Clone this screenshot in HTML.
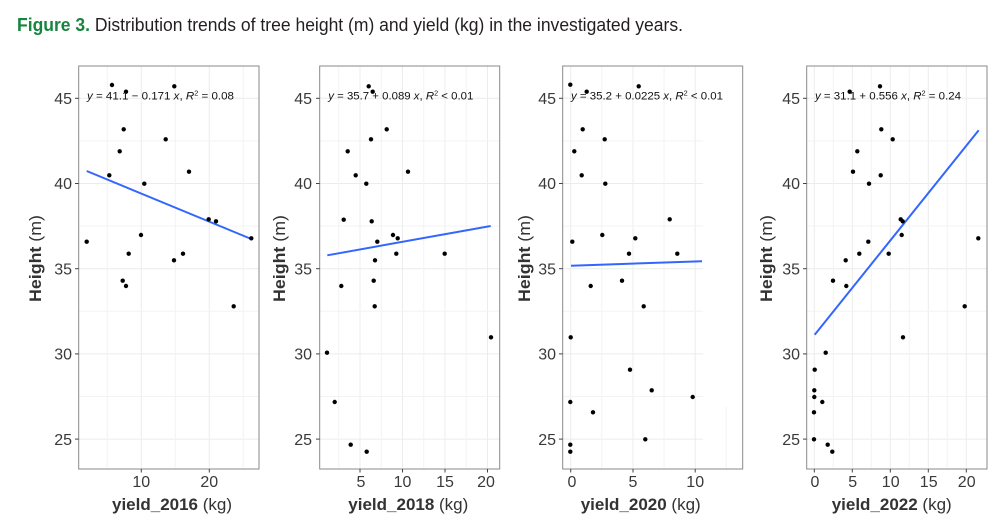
<!DOCTYPE html>
<html><head><meta charset="utf-8"><style>
html,body{margin:0;padding:0;background:#fff;}
svg{display:block;}
text{font-family:"Liberation Sans",Arial,sans-serif;}
</style></head><body>
<svg width="1000" height="521" viewBox="0 0 1000 521" xmlns="http://www.w3.org/2000/svg">
<rect width="1000" height="521" fill="#fff"/>
<text x="17" y="31" font-size="18" fill="#231f20" textLength="666" lengthAdjust="spacingAndGlyphs"><tspan font-weight="bold" fill="#17853f">Figure 3.</tspan> Distribution trends of tree height (m) and yield (kg) in the investigated years.</text>

<!-- Panel 1 -->
<g>
<g stroke="#ececec" stroke-width="1">
<line x1="78.7" x2="259" y1="98.3" y2="98.3"/><line x1="78.7" x2="259" y1="183.5" y2="183.5"/><line x1="78.7" x2="259" y1="268.7" y2="268.7"/><line x1="78.7" x2="259" y1="353.9" y2="353.9"/><line x1="78.7" x2="259" y1="439.1" y2="439.1"/>
<line x1="141.3" x2="141.3" y1="66" y2="469"/><line x1="209.3" x2="209.3" y1="66" y2="469"/>
</g>
<g stroke="#f3f3f3" stroke-width="1">
<line x1="78.7" x2="259" y1="140.9" y2="140.9"/><line x1="78.7" x2="259" y1="226.1" y2="226.1"/><line x1="78.7" x2="259" y1="311.3" y2="311.3"/><line x1="78.7" x2="259" y1="396.5" y2="396.5"/>
<line x1="107.3" x2="107.3" y1="66" y2="469"/><line x1="175.3" x2="175.3" y1="66" y2="469"/><line x1="243.3" x2="243.3" y1="66" y2="469"/>
</g>
<rect x="78.7" y="66" width="180.3" height="403" fill="none" stroke="#8a8a8a" stroke-width="1"/>
<g stroke="#444" stroke-width="1">
<line x1="75" x2="78.7" y1="98.3" y2="98.3"/><line x1="75" x2="78.7" y1="183.5" y2="183.5"/><line x1="75" x2="78.7" y1="268.7" y2="268.7"/><line x1="75" x2="78.7" y1="353.9" y2="353.9"/><line x1="75" x2="78.7" y1="439.1" y2="439.1"/>
<line x1="141.3" x2="141.3" y1="469" y2="472.5"/><line x1="209.3" x2="209.3" y1="469" y2="472.5"/>
</g>
<g font-size="16" fill="#3a3a3a" text-anchor="end">
<text x="72" y="104">45</text><text x="72" y="189.2">40</text><text x="72" y="274.4">35</text><text x="72" y="359.6">30</text><text x="72" y="444.8">25</text>
</g>
<g font-size="16" fill="#3a3a3a" text-anchor="middle">
<text x="141.3" y="487">10</text><text x="209.3" y="487">20</text>
</g>
<text x="112" y="510" font-size="17" fill="#333" textLength="120" lengthAdjust="spacingAndGlyphs"><tspan font-weight="bold">yield_2016</tspan> (kg)</text>
<text transform="translate(41,302) rotate(-90)" font-size="17" fill="#333" textLength="87" lengthAdjust="spacingAndGlyphs"><tspan font-weight="bold">Height</tspan>  (m)</text>
<line x1="86.7" y1="171" x2="251.3" y2="239" stroke="#3366ff" stroke-width="2"/>
<g fill="#000">
<circle cx="112" cy="85" r="2.2"/><circle cx="174.3" cy="86.3" r="2.2"/><circle cx="126" cy="91.7" r="2.2"/><circle cx="123.7" cy="129.3" r="2.2"/><circle cx="165.7" cy="139.3" r="2.2"/><circle cx="119.7" cy="151.3" r="2.2"/><circle cx="189" cy="171.7" r="2.2"/><circle cx="109.3" cy="175.3" r="2.2"/><circle cx="144.3" cy="183.7" r="2.2"/><circle cx="208.7" cy="219.3" r="2.2"/><circle cx="216" cy="221.3" r="2.2"/><circle cx="251.3" cy="238.3" r="2.2"/><circle cx="86.7" cy="241.7" r="2.2"/><circle cx="141" cy="235" r="2.2"/><circle cx="128.7" cy="253.7" r="2.2"/><circle cx="183" cy="253.7" r="2.2"/><circle cx="174" cy="260.3" r="2.2"/><circle cx="122.7" cy="280.7" r="2.2"/><circle cx="126" cy="286" r="2.2"/><circle cx="233.7" cy="306.3" r="2.2"/>
</g>
<text x="87" y="99.5" font-size="11" fill="#111" textLength="147" lengthAdjust="spacingAndGlyphs"><tspan font-style="italic">y</tspan> = 41.1 − 0.171 <tspan font-style="italic">x</tspan>, <tspan font-style="italic">R</tspan><tspan font-size="7" dy="-4">2</tspan><tspan dy="4"> = 0.08</tspan></text>
</g>

<!-- Panel 2 -->
<g>
<g stroke="#ececec" stroke-width="1">
<line x1="319.7" x2="499.7" y1="98.3" y2="98.3"/><line x1="319.7" x2="499.7" y1="183.5" y2="183.5"/><line x1="319.7" x2="499.7" y1="268.7" y2="268.7"/><line x1="319.7" x2="499.7" y1="353.9" y2="353.9"/><line x1="319.7" x2="499.7" y1="439.1" y2="439.1"/>
<line x1="360" x2="360" y1="66" y2="469"/><line x1="402.5" x2="402.5" y1="66" y2="469"/><line x1="445" x2="445" y1="66" y2="469"/><line x1="487.5" x2="487.5" y1="66" y2="469"/>
</g>
<g stroke="#f3f3f3" stroke-width="1">
<line x1="319.7" x2="499.7" y1="140.9" y2="140.9"/><line x1="319.7" x2="499.7" y1="226.1" y2="226.1"/><line x1="319.7" x2="499.7" y1="311.3" y2="311.3"/><line x1="319.7" x2="499.7" y1="396.5" y2="396.5"/>
<line x1="338.75" x2="338.75" y1="66" y2="469"/><line x1="381.25" x2="381.25" y1="66" y2="469"/><line x1="423.75" x2="423.75" y1="66" y2="469"/><line x1="466.25" x2="466.25" y1="66" y2="469"/>
</g>
<rect x="319.7" y="66" width="180" height="403" fill="none" stroke="#8a8a8a" stroke-width="1"/>
<g stroke="#444" stroke-width="1">
<line x1="316" x2="319.7" y1="98.3" y2="98.3"/><line x1="316" x2="319.7" y1="183.5" y2="183.5"/><line x1="316" x2="319.7" y1="268.7" y2="268.7"/><line x1="316" x2="319.7" y1="353.9" y2="353.9"/><line x1="316" x2="319.7" y1="439.1" y2="439.1"/>
<line x1="360" x2="360" y1="469" y2="472.5"/><line x1="402.5" x2="402.5" y1="469" y2="472.5"/><line x1="445" x2="445" y1="469" y2="472.5"/><line x1="487.5" x2="487.5" y1="469" y2="472.5"/>
</g>
<g font-size="16" fill="#3a3a3a" text-anchor="end">
<text x="312" y="104">45</text><text x="312" y="189.2">40</text><text x="312" y="274.4">35</text><text x="312" y="359.6">30</text><text x="312" y="444.8">25</text>
</g>
<g font-size="16" fill="#3a3a3a" text-anchor="middle">
<text x="361" y="487">5</text><text x="402.5" y="487">10</text><text x="445" y="487">15</text><text x="486" y="487">20</text>
</g>
<text x="348.3" y="510" font-size="17" fill="#333" textLength="120" lengthAdjust="spacingAndGlyphs"><tspan font-weight="bold">yield_2018</tspan> (kg)</text>
<text transform="translate(285,302) rotate(-90)" font-size="17" fill="#333" textLength="87" lengthAdjust="spacingAndGlyphs"><tspan font-weight="bold">Height</tspan>  (m)</text>
<line x1="327.3" y1="255.3" x2="490.7" y2="226" stroke="#3366ff" stroke-width="2"/>
<g fill="#000">
<circle cx="368.7" cy="86.3" r="2.2"/><circle cx="372.7" cy="91.7" r="2.2"/><circle cx="386.7" cy="129.3" r="2.2"/><circle cx="371" cy="139.3" r="2.2"/><circle cx="347.7" cy="151.3" r="2.2"/><circle cx="355.7" cy="175.3" r="2.2"/><circle cx="408" cy="171.7" r="2.2"/><circle cx="366.3" cy="183.7" r="2.2"/><circle cx="343.7" cy="219.7" r="2.2"/><circle cx="371.7" cy="221.3" r="2.2"/><circle cx="393" cy="235" r="2.2"/><circle cx="397.7" cy="238.3" r="2.2"/><circle cx="377.3" cy="241.7" r="2.2"/><circle cx="396.3" cy="253.7" r="2.2"/><circle cx="444.7" cy="253.7" r="2.2"/><circle cx="375" cy="260.3" r="2.2"/><circle cx="373.7" cy="280.7" r="2.2"/><circle cx="341.3" cy="286" r="2.2"/><circle cx="374.7" cy="306.3" r="2.2"/><circle cx="491" cy="337.3" r="2.2"/><circle cx="327" cy="352.7" r="2.2"/><circle cx="334.7" cy="402" r="2.2"/><circle cx="350.7" cy="444.7" r="2.2"/><circle cx="366.7" cy="451.7" r="2.2"/>
</g>
<text x="328.3" y="99.5" font-size="11" fill="#111" textLength="145" lengthAdjust="spacingAndGlyphs"><tspan font-style="italic">y</tspan> = 35.7 + 0.089 <tspan font-style="italic">x</tspan>, <tspan font-style="italic">R</tspan><tspan font-size="7" dy="-4">2</tspan><tspan dy="4"> &lt; 0.01</tspan></text>
</g>

<!-- Panel 3 -->
<g>
<g stroke="#ececec" stroke-width="1">
<line x1="562.7" x2="703" y1="98.3" y2="98.3"/><line x1="562.7" x2="703" y1="183.5" y2="183.5"/><line x1="562.7" x2="703" y1="268.7" y2="268.7"/><line x1="562.7" x2="703" y1="353.9" y2="353.9"/><line x1="562.7" x2="703" y1="439.1" y2="439.1"/>
<line x1="570.7" x2="570.7" y1="66" y2="469"/><line x1="633" x2="633" y1="66" y2="469"/><line x1="695.2" x2="695.2" y1="66" y2="469"/>
</g>
<g stroke="#f3f3f3" stroke-width="1">
<line x1="562.7" x2="703" y1="140.9" y2="140.9"/><line x1="562.7" x2="703" y1="226.1" y2="226.1"/><line x1="562.7" x2="703" y1="311.3" y2="311.3"/><line x1="562.7" x2="703" y1="396.5" y2="396.5"/>
<line x1="601.8" x2="601.8" y1="66" y2="469"/><line x1="664.1" x2="664.1" y1="66" y2="469"/><line x1="726.3" x2="726.3" y1="407" y2="469"/>
</g>
<rect x="562.7" y="66" width="180" height="403" fill="none" stroke="#8a8a8a" stroke-width="1"/>
<g stroke="#444" stroke-width="1">
<line x1="559" x2="562.7" y1="98.3" y2="98.3"/><line x1="559" x2="562.7" y1="183.5" y2="183.5"/><line x1="559" x2="562.7" y1="268.7" y2="268.7"/><line x1="559" x2="562.7" y1="353.9" y2="353.9"/><line x1="559" x2="562.7" y1="439.1" y2="439.1"/>
<line x1="570.7" x2="570.7" y1="469" y2="472.5"/><line x1="633" x2="633" y1="469" y2="472.5"/><line x1="695.2" x2="695.2" y1="469" y2="472.5"/>
</g>
<g font-size="16" fill="#3a3a3a" text-anchor="end">
<text x="556" y="104">45</text><text x="556" y="189.2">40</text><text x="556" y="274.4">35</text><text x="556" y="359.6">30</text><text x="556" y="444.8">25</text>
</g>
<g font-size="16" fill="#3a3a3a" text-anchor="middle">
<text x="572" y="487">0</text><text x="633" y="487">5</text><text x="695.2" y="487">10</text>
</g>
<text x="580.7" y="510" font-size="17" fill="#333" textLength="120" lengthAdjust="spacingAndGlyphs"><tspan font-weight="bold">yield_2020</tspan> (kg)</text>
<text transform="translate(530,302) rotate(-90)" font-size="17" fill="#333" textLength="87" lengthAdjust="spacingAndGlyphs"><tspan font-weight="bold">Height</tspan>  (m)</text>
<line x1="571" y1="265.7" x2="702" y2="261.3" stroke="#3366ff" stroke-width="2"/>
<g fill="#000">
<circle cx="570.3" cy="84.7" r="2.2"/><circle cx="638.7" cy="86.3" r="2.2"/><circle cx="586.7" cy="91.7" r="2.2"/><circle cx="582.7" cy="129.3" r="2.2"/><circle cx="604.7" cy="139.3" r="2.2"/><circle cx="574.3" cy="151.3" r="2.2"/><circle cx="581.7" cy="175.3" r="2.2"/><circle cx="605.3" cy="183.7" r="2.2"/><circle cx="669.7" cy="219.3" r="2.2"/><circle cx="602.3" cy="235" r="2.2"/><circle cx="635.3" cy="238.3" r="2.2"/><circle cx="572.3" cy="241.7" r="2.2"/><circle cx="629" cy="253.7" r="2.2"/><circle cx="677.3" cy="253.7" r="2.2"/><circle cx="622" cy="280.7" r="2.2"/><circle cx="590.7" cy="286" r="2.2"/><circle cx="643.7" cy="306.3" r="2.2"/><circle cx="570.7" cy="337.3" r="2.2"/><circle cx="630" cy="369.7" r="2.2"/><circle cx="651.7" cy="390.3" r="2.2"/><circle cx="692.7" cy="397" r="2.2"/><circle cx="570.3" cy="402" r="2.2"/><circle cx="593" cy="412.3" r="2.2"/><circle cx="645.3" cy="439.3" r="2.2"/><circle cx="570.3" cy="444.7" r="2.2"/><circle cx="570.3" cy="451.7" r="2.2"/>
</g>
<text x="571" y="99.5" font-size="11" fill="#111" textLength="152" lengthAdjust="spacingAndGlyphs"><tspan font-style="italic">y</tspan> = 35.2 + 0.0225 <tspan font-style="italic">x</tspan>, <tspan font-style="italic">R</tspan><tspan font-size="7" dy="-4">2</tspan><tspan dy="4"> &lt; 0.01</tspan></text>
</g>

<!-- Panel 4 -->
<g>
<g stroke="#ececec" stroke-width="1">
<line x1="806.7" x2="987" y1="98.3" y2="98.3"/><line x1="806.7" x2="987" y1="183.5" y2="183.5"/><line x1="806.7" x2="987" y1="268.7" y2="268.7"/><line x1="806.7" x2="987" y1="353.9" y2="353.9"/><line x1="806.7" x2="987" y1="439.1" y2="439.1"/>
<line x1="814.3" x2="814.3" y1="66" y2="469"/><line x1="852.3" x2="852.3" y1="66" y2="469"/><line x1="890.3" x2="890.3" y1="66" y2="469"/><line x1="928.3" x2="928.3" y1="66" y2="469"/><line x1="966.3" x2="966.3" y1="66" y2="469"/>
</g>
<g stroke="#f3f3f3" stroke-width="1">
<line x1="806.7" x2="987" y1="140.9" y2="140.9"/><line x1="806.7" x2="987" y1="226.1" y2="226.1"/><line x1="806.7" x2="987" y1="311.3" y2="311.3"/><line x1="806.7" x2="987" y1="396.5" y2="396.5"/>
<line x1="833.3" x2="833.3" y1="66" y2="469"/><line x1="871.3" x2="871.3" y1="66" y2="469"/><line x1="909.3" x2="909.3" y1="66" y2="469"/><line x1="947.3" x2="947.3" y1="66" y2="469"/>
</g>
<rect x="806.7" y="66" width="180.3" height="403" fill="none" stroke="#8a8a8a" stroke-width="1"/>
<g stroke="#444" stroke-width="1">
<line x1="803" x2="806.7" y1="98.3" y2="98.3"/><line x1="803" x2="806.7" y1="183.5" y2="183.5"/><line x1="803" x2="806.7" y1="268.7" y2="268.7"/><line x1="803" x2="806.7" y1="353.9" y2="353.9"/><line x1="803" x2="806.7" y1="439.1" y2="439.1"/>
<line x1="814.3" x2="814.3" y1="469" y2="472.5"/><line x1="852.3" x2="852.3" y1="469" y2="472.5"/><line x1="890.3" x2="890.3" y1="469" y2="472.5"/><line x1="928.3" x2="928.3" y1="469" y2="472.5"/><line x1="966.3" x2="966.3" y1="469" y2="472.5"/>
</g>
<g font-size="16" fill="#3a3a3a" text-anchor="end">
<text x="800" y="104">45</text><text x="800" y="189.2">40</text><text x="800" y="274.4">35</text><text x="800" y="359.6">30</text><text x="800" y="444.8">25</text>
</g>
<g font-size="16" fill="#3a3a3a" text-anchor="middle">
<text x="815" y="487">0</text><text x="852.7" y="487">5</text><text x="890.7" y="487">10</text><text x="928.7" y="487">15</text><text x="966.7" y="487">20</text>
</g>
<text x="831.7" y="510" font-size="17" fill="#333" textLength="120" lengthAdjust="spacingAndGlyphs"><tspan font-weight="bold">yield_2022</tspan> (kg)</text>
<text transform="translate(772,302) rotate(-90)" font-size="17" fill="#333" textLength="87" lengthAdjust="spacingAndGlyphs"><tspan font-weight="bold">Height</tspan>  (m)</text>
<line x1="814.7" y1="334.7" x2="978.7" y2="130.3" stroke="#3366ff" stroke-width="2"/>
<g fill="#000">
<circle cx="849.7" cy="91.7" r="2.2"/><circle cx="880" cy="86.3" r="2.2"/><circle cx="881.3" cy="129.3" r="2.2"/><circle cx="892.7" cy="139.3" r="2.2"/><circle cx="857.3" cy="151.3" r="2.2"/><circle cx="853" cy="171.7" r="2.2"/><circle cx="880.7" cy="175.3" r="2.2"/><circle cx="869" cy="183.7" r="2.2"/><circle cx="900.7" cy="219.3" r="2.2"/><circle cx="902.7" cy="221.3" r="2.2"/><circle cx="901.7" cy="235" r="2.2"/><circle cx="978.3" cy="238.3" r="2.2"/><circle cx="868.3" cy="241.7" r="2.2"/><circle cx="859.3" cy="253.7" r="2.2"/><circle cx="888.7" cy="253.7" r="2.2"/><circle cx="845.7" cy="260.3" r="2.2"/><circle cx="833" cy="280.7" r="2.2"/><circle cx="846.3" cy="286" r="2.2"/><circle cx="964.7" cy="306.3" r="2.2"/><circle cx="903" cy="337.3" r="2.2"/><circle cx="825.7" cy="352.7" r="2.2"/><circle cx="814.7" cy="369.7" r="2.2"/><circle cx="814.3" cy="390.3" r="2.2"/><circle cx="814.3" cy="397" r="2.2"/><circle cx="822.3" cy="402" r="2.2"/><circle cx="814" cy="412.3" r="2.2"/><circle cx="814" cy="439.3" r="2.2"/><circle cx="827.7" cy="444.7" r="2.2"/><circle cx="832.3" cy="451.7" r="2.2"/>
</g>
<text x="815" y="99.5" font-size="11" fill="#111" textLength="146" lengthAdjust="spacingAndGlyphs"><tspan font-style="italic">y</tspan> = 31.1 + 0.556 <tspan font-style="italic">x</tspan>, <tspan font-style="italic">R</tspan><tspan font-size="7" dy="-4">2</tspan><tspan dy="4"> = 0.24</tspan></text>
</g>
</svg>
</body></html>
